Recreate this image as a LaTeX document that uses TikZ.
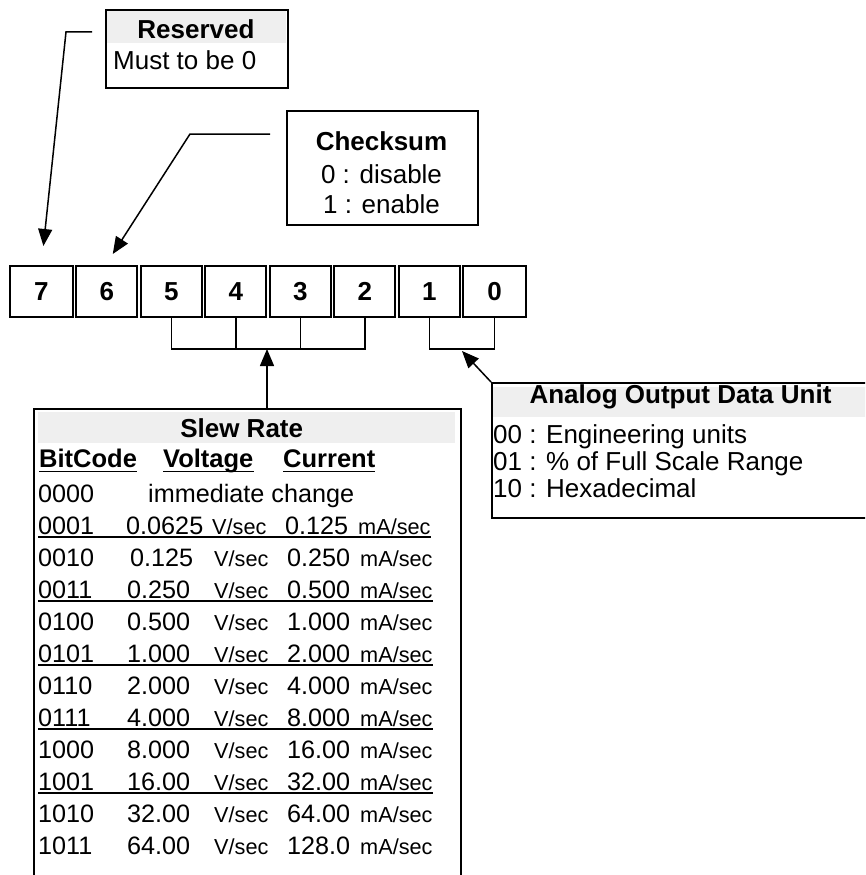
\documentclass[tikz,border=0pt]{standalone}
\usepackage{fontspec}
\setmainfont{Liberation Sans}
\usetikzlibrary{arrows.meta,calc}
\definecolor{band}{HTML}{EFEFEF}
\tikzset{
 frame/.style={draw=black,line width=2pt,inner sep=0pt},
 conn/.style={draw=black,line width=1.5pt},
 arr/.style={conn,-{Triangle[length=17pt,width=14pt]}},
 uline/.style={draw=black,line width=1.5pt},
 txt/.style={inner sep=0pt,anchor=base west,font=\fontsize{25.2}{30}\selectfont},
 ltxt/.style={inner sep=0pt,anchor=base west,font=\fontsize{26}{30}\selectfont},
 ctxt/.style={inner sep=0pt,anchor=base,font=\fontsize{26}{30}\selectfont},
 btxt/.style={inner sep=0pt,anchor=base,font=\fontsize{26}{30}\selectfont\bfseries},
 bwtxt/.style={inner sep=0pt,anchor=base west,font=\fontsize{25.5}{30}\selectfont\bfseries},
 unit/.style={inner sep=0pt,anchor=base west,font=\fontsize{21.7}{26}\selectfont},
 bitcell/.style={frame,minimum height=51pt,font=\fontsize{26}{30}\selectfont\bfseries},
}
\begin{document}
\begin{tikzpicture}[x=1pt,y=-1pt]
\useasboundingbox (0,0) rectangle (865,875);
\clip (0,0) rectangle (865,875);
% grey bands
\fill[band] (106,10) rectangle (286,43);
\fill[band] (493,387) rectangle (870,417);
\fill[band] (38,412) rectangle (455,443);
% Reserved box
\node[frame,anchor=north west,minimum width=182pt,minimum height=78pt] (res) at (105,9) {};
\node[btxt] (restitle) at (196,38) {Reserved};
\node[ltxt] (resline) at (113,70) {Must to be 0};
% Checksum box
\node[frame,anchor=north west,minimum width=191pt,minimum height=114pt] (chk) at (286,110) {};
\node[btxt] (chktitle) at (381.5,150) {Checksum};
\node[ctxt] (chk0) at (381.5,183) {0 : disable};
\node[ctxt] (chk1) at (381.5,213) {1 : enable};
% bit cells
\foreach \d/\cx/\w in {7/41.4/62.75,6/106.75/61,5/171.25/61,4/235.75/61,3/300.25/61,2/364.75/61,1/429.25/61,0/494.6/62.75}
  \node[bitcell,minimum width=\w] (b\d) at (\cx,291.5) {\d};
% arrows from top boxes
\coordinate (resfree) at (92,32);
\coordinate (resbend) at (66,32);
\draw[arr] (resfree) -- (resbend) -- ([xshift=2pt,yshift=19pt]b7.north);
\coordinate (chkfree) at (270,134);
\coordinate (chkbend) at (190,134);
\draw[arr] (chkfree) -- (chkbend) -- ([xshift=6pt,yshift=11pt]b6.north);
% brackets
\coordinate (barY) at (0,349);
\draw[conn] (b5.south) -- (b5.south |- barY) -- (b2.south |- barY) -- (b2.south);
\draw[conn] (b4.south) -- (b4.south |- barY);
\draw[conn] (b3.south) -- (b3.south |- barY);
\draw[conn] (b1.south) -- (b1.south |- barY) -- (b0.south |- barY) -- (b0.south);
% Analog output box
\node[frame,anchor=north west,minimum width=390pt,minimum height=135pt] (ana) at (491,382) {};
\node[btxt] (anatitle) at (680.5,403) {Analog Output Data Unit};
\node[ltxt] (ana0) at (493,443) {00 : Engineering units};
\node[ltxt] (ana1) at (493,470) {01 : \% of Full Scale Range};
\node[ltxt] (ana2) at (493,497) {10 : Hexadecimal};
\coordinate (anatip) at (462,351);
\draw[arr] (ana.north west) -- (anatip);
% Slew rate box
\node[frame,anchor=north west,minimum width=427pt,minimum height=480pt] (slew) at (33,408) {};
\coordinate (sarr) at (267,349);
\draw[arr] (sarr |- slew.north) -- (sarr);
\node[btxt] (slewtitle) at (241.7,437.5) {Slew Rate};
\node[bwtxt] (h1) at (39,467) {BitCode};
\node[bwtxt] (h2) at (163,467) {Voltage};
\node[bwtxt] (h3) at (283,467) {Current};
\foreach \h in {h1,h2,h3}
  \draw[uline] ([yshift=-4.5pt]\h.base west) -- ([yshift=-4.5pt]\h.base east);
\node[txt] (c0) at (38,502) {0000};
\node[txt] (imm) at (148,502) {immediate change};
\foreach \k/\c/\v/\cur/\vx/\s in {1/0001/0.0625/0.125/126/-2,2/0010/0.125/0.250/130/0,3/0011/0.250/0.500/127/0,4/0100/0.500/1.000/127/0,5/0101/1.000/2.000/127/0,6/0110/2.000/4.000/127/0,7/0111/4.000/8.000/127/0,8/1000/8.000/16.00/127/0,9/1001/16.00/32.00/127/0,10/1010/32.00/64.00/127/0,11/1011/64.00/128.0/127/0}{
  \node[txt] (c\k) at (38,{502+32*\k}) {\c};
  \node[txt] (v\k) at (\vx,{502+32*\k}) {\v};
  \node[unit] (u\k) at ({214+\s},{502+32*\k}) {V/sec};
  \node[txt] (i\k) at ({287+\s},{502+32*\k}) {\cur};
  \node[unit] (m\k) at ({360+\s},{502+32*\k}) {mA/sec};
}
\foreach \k in {1,3,5,7,9}
  \draw[uline] ([yshift=-3pt]c\k.base west) -- ([yshift=-3pt]m\k.base east);
\end{tikzpicture}
\end{document}
